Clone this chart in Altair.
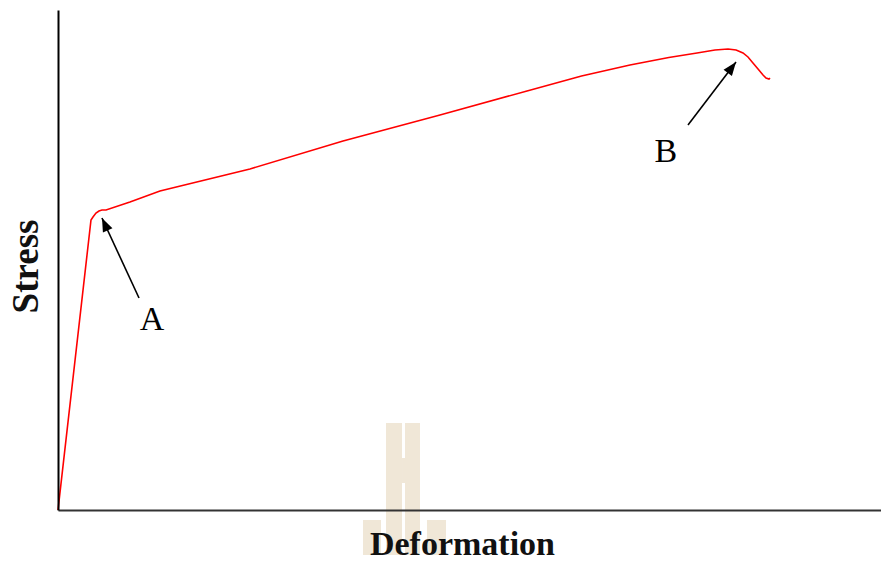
import math
import altair as alt
import pandas as pd

# Stress-deformation curve (arbitrary units: deformation 0-100, stress 0-100)
deformation = [0, 3.97, 4.21, 4.57, 4.93, 5.29, 5.78, 8.66, 12.27, 23.1, 34.3, 45.97,
               56.44, 63.0, 68.83, 73.5, 76.9, 79.06, 80.63, 81.6, 82.43, 83.03, 83.63, 84.24,
               84.84, 85.2, 85.56, 85.68]
stress = [0, 58.0, 58.6, 59.4, 59.8, 60.0, 60.0, 61.6, 63.8, 68.2, 73.8, 79.0,
          83.8, 86.8, 89.0, 90.5, 91.4, 92.0, 92.2, 92.0, 91.4, 90.6, 89.4, 88.2,
          87.0, 86.4, 86.2, 86.4]

# Annotations
labels = ["A", "B"]
label_x = [11.31, 73.16]
label_y = [38.0, 71.6]
arrow_tail_x = [9.75, 75.81]
arrow_tail_y = [42.4, 77.0]
arrow_tip_x = [5.29, 81.59]
arrow_tip_y = [58.4, 89.6]

# Faint watermark blocks
wm_x = [39.47, 41.76, 41.40, 36.70, 44.40]
wm_x2 = [41.40, 43.56, 41.76, 38.87, 46.69]
wm_y = [17.4, 17.4, 10.4, -2.0, -2.0]
wm_y2 = [-10.6, -10.6, 5.4, -10.6, -10.6]

W, H = 823, 500
PX_X = 831 / 100.0
PX_Y = H / 100.0

curve = pd.DataFrame({"d": deformation, "s": stress, "o": list(range(len(stress)))})
ann = pd.DataFrame({
    "label": labels, "lx": label_x, "ly": label_y,
    "tx": arrow_tail_x, "ty": arrow_tail_y, "hx": arrow_tip_x, "hy": arrow_tip_y,
})
ann["angle"] = [
    (math.degrees(math.atan2((hx - tx) * PX_X, (hy - ty) * PX_Y)) + 360) % 360
    for tx, ty, hx, hy in zip(arrow_tail_x, arrow_tail_y, arrow_tip_x, arrow_tip_y)
]
wm = pd.DataFrame({"x": wm_x, "x2": wm_x2, "y": wm_y, "y2": wm_y2})

# x domain upper bound chosen so that 100 units span the full 831px reference width
xs = alt.Scale(domain=[0, 100 * W / 831], nice=False, zero=False)
ys = alt.Scale(domain=[0, 100], nice=False, zero=False)

serif = "Liberation Serif"

watermark = alt.Chart(wm).mark_rect(color="#F0E7D7", clip=False).encode(
    x=alt.X("x:Q", scale=xs, axis=alt.Axis(
        title="Deformation", labels=False, ticks=False, grid=False,
        domainColor="#333333", domainWidth=2, titleFont=serif, titleFontSize=34,
        titleFontWeight="bold", titleColor="#111111", titleBaseline="alphabetic",
        titleX=404, titleY=44, zindex=1)),
    x2="x2:Q",
    y=alt.Y("y:Q", scale=ys, axis=alt.Axis(
        title="Stress", labels=False, ticks=False, grid=False,
        domainColor="#000000", domainWidth=2, titleFont=serif, titleFontSize=37,
        titleFontWeight="bold", titleColor="#111111", titlePadding=13,
        titleY=256, zindex=1)),
    y2="y2:Q",
)

line = alt.Chart(curve).mark_line(color="#FF0000", strokeWidth=1.6, interpolate="linear").encode(
    x=alt.X("d:Q", scale=xs),
    y=alt.Y("s:Q", scale=ys),
    order="o:Q",
)

shafts = alt.Chart(ann).mark_rule(color="#000000", strokeWidth=1.6).encode(
    x=alt.X("tx:Q", scale=xs), y=alt.Y("ty:Q", scale=ys),
    x2="hx:Q", y2="hy:Q",
)

heads = alt.Chart(ann).mark_point(
    shape="M0,0L-0.5,1.3L0.5,1.3Z", filled=True, color="#000000", size=440, opacity=1
).encode(
    x=alt.X("hx:Q", scale=xs), y=alt.Y("hy:Q", scale=ys),
    angle=alt.Angle("angle:Q", scale=None),
)

texts = alt.Chart(ann).mark_text(font=serif, fontSize=34, color="#000000").encode(
    x=alt.X("lx:Q", scale=xs), y=alt.Y("ly:Q", scale=ys), text="label:N",
)

chart = alt.layer(watermark, line, shafts, heads, texts).properties(
    width=W, height=H,
    background="white",
    autosize=alt.AutoSizeParams(type="none"),
    padding={"left": 50, "top": 2, "right": 0, "bottom": 45},
).configure_view(stroke=None, strokeWidth=0).configure_axis(grid=False)

chart.save("out.html", embed_options={"renderer": "svg", "actions": False})
